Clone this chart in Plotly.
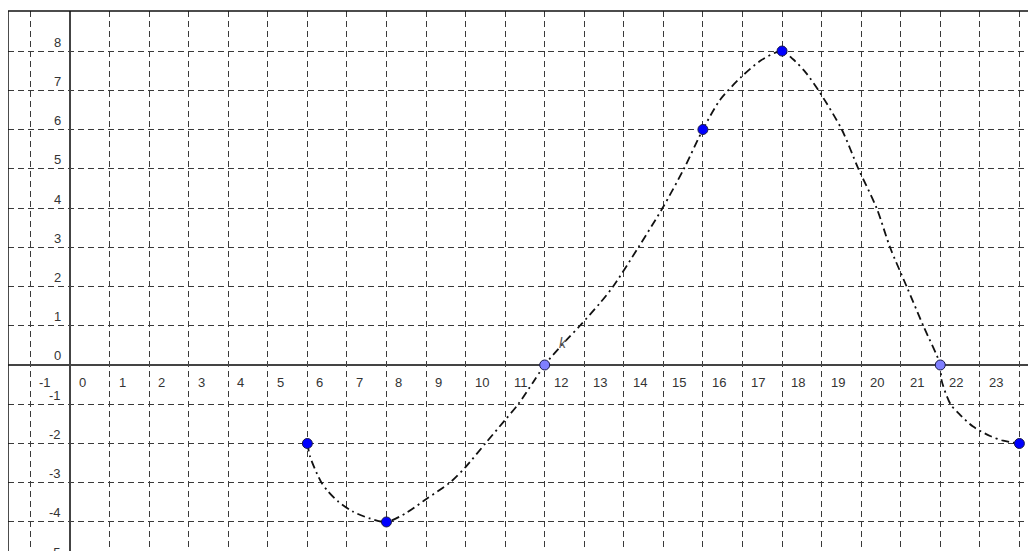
import plotly.graph_objects as go

# Labelled points
pts_x = [6, 8, 12, 16, 18, 22, 24]
pts_y = [-2, -4, 0, 6, 8, 0, -2]
pts_color = ["#0000ff", "#0000ff", "#7f7fff", "#0000ff", "#0000ff", "#7f7fff", "#0000ff"]

# Curve k
curve_x = [6, 6.07, 6.24, 6.36, 6.53, 6.78, 7.16, 7.58, 8, 8.5, 9, 9.6, 10, 10.5, 11,
           11.33, 11.7, 12, 12.47, 12.89, 13.4, 13.73, 14.37, 14.98, 15.52, 16, 16.43, 16.98,
           17.48, 18, 18.28, 18.6, 18.92, 19.51, 19.93, 20.39, 20.73, 21.15, 21.57, 22, 22.03,
           22.26, 22.5, 22.83, 23.26, 23.59, 24]
curve_y = [-2, -2.34, -2.76, -3, -3.23, -3.48, -3.74, -3.91, -4, -3.77, -3.42, -3.0, -2.6,
           -2.0, -1.4, -1.0, -0.45, 0, 0.55, 1, 1.58, 2, 3, 4, 5, 6, 6.75, 7.35, 7.77, 8,
           7.79, 7.45, 7, 6, 5, 4, 3, 2, 1, 0, -0.38, -1, -1.27, -1.57, -1.81, -1.93, -2]

x_ticks = list(range(-1, 25))
x_labels = [str(v) for v in x_ticks]
y_ticks = list(range(-5, 9))
y_labels = [str(v) for v in y_ticks]

X_RANGE = [-1.567, 24.42]
Y_RANGE = [-4.74, 9.02]
PLOT_H = 540
PX_PER_Y = PLOT_H / (Y_RANGE[1] - Y_RANGE[0])

fig = go.Figure()
fig.add_trace(go.Scatter(
    x=curve_x, y=curve_y, mode="lines",
    line=dict(color="#111111", width=1.8, dash="8px,4px,2px,4px", shape="spline", smoothing=0.8),
    hoverinfo="skip", showlegend=False))
fig.add_trace(go.Scatter(
    x=pts_x, y=pts_y, mode="markers",
    marker=dict(color=pts_color, size=10, line=dict(color="#1a1a4a", width=1)),
    showlegend=False))

font = dict(family="Liberation Sans, Arial, sans-serif", size=13, color="#333333")
ann = []
for v, t in zip(x_ticks, x_labels):
    ann.append(dict(x=v, y=0, xref="x", yref="y", text=t, showarrow=False,
                    xanchor="left", yanchor="middle", xshift=7, yshift=-18, font=font))
for v, t in zip(y_ticks, y_labels):
    yy = max(v, Y_RANGE[0])
    shift = 9 - (yy - v) * PX_PER_Y
    ann.append(dict(x=0, y=yy, xref="x", yref="y", text=t, showarrow=False,
                    xanchor="right", yanchor="middle", xshift=-7, yshift=shift, font=font))
ann.append(dict(x=12.46, y=0.56, xref="x", yref="y", text="<i>k</i>", showarrow=False,
                xanchor="center", yanchor="middle",
                font=dict(family="Liberation Sans, Arial, sans-serif", size=14, color="#555555")))

grid = dict(showgrid=True, gridcolor="#3a3a3a", gridwidth=1, griddash="6px,4px",
            zeroline=True, zerolinecolor="#444444", zerolinewidth=1.6,
            showticklabels=False, ticks="", showline=False, dtick=1, tick0=0)

fig.update_layout(
    width=1028, height=543,
    margin=dict(l=0, r=0, t=3, b=0),
    paper_bgcolor="white", plot_bgcolor="white",
    xaxis=dict(range=X_RANGE, **grid),
    yaxis=dict(range=Y_RANGE, **grid),
    annotations=ann,
    shapes=[
        dict(type="line", xref="paper", yref="paper", x0=0, x1=1, y0=1, y1=1,
             line=dict(color="#111111", width=1.5)),
        dict(type="line", xref="paper", yref="paper", x0=0, x1=0, y0=0, y1=1,
             line=dict(color="#111111", width=1.5)),
    ],
)

fig.write_html("out.html")
